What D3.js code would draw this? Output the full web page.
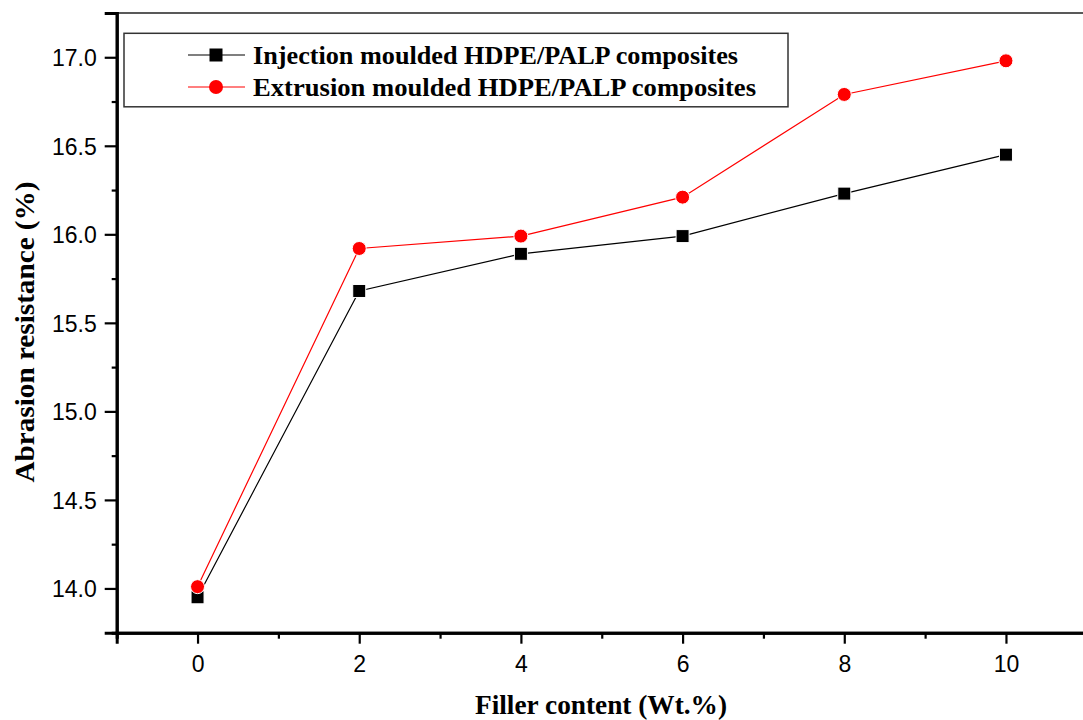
<!DOCTYPE html>
<html><head><meta charset="utf-8">
<script src="https://cdn.jsdelivr.net/npm/d3@7"></script>
<style>html,body{margin:0;padding:0;background:#fff;overflow:hidden}</style>
</head><body>
<svg id="chart" width="1083" height="720"></svg>
<script>
const fillerContent = [0, 2, 4, 6, 8, 10];
const injectionValues = [13.95, 15.68, 15.89, 15.99, 16.23, 16.45];
const extrusionValues = [14.01, 15.92, 15.99, 16.21, 16.79, 16.98];
const seriesNames = ["Injection moulded HDPE/PALP composites", "Extrusion moulded HDPE/PALP composites"];
const xTickLabels = [0, 2, 4, 6, 8, 10];
const yTickLabels = [14.0, 14.5, 15.0, 15.5, 16.0, 16.5, 17.0];
const xTitle = "Filler content (Wt.%)";
const yTitle = "Abrasion resistance (%)";

(function () {
const svg = d3.select("#chart");
const pLeft = 116.7, pRight = 1086.8, pTop = 13, pBottom = 632.7;
const x = d3.scaleLinear().domain([-1, 11]).range([pLeft, pRight]);
const y = d3.scaleLinear().domain([13.75, 17.25]).range([pBottom, pTop]);

// frame (top and right)
svg.append("line").attr("x1", pLeft).attr("x2", pRight).attr("y1", pTop).attr("y2", pTop)
  .attr("stroke", "#222").attr("stroke-width", 1.5);
svg.append("line").attr("x1", pRight).attr("x2", pRight).attr("y1", pTop).attr("y2", pBottom)
  .attr("stroke", "#222").attr("stroke-width", 1.5);

// X axis
const xMajor = d3.axisBottom(x).tickValues(xTickLabels).tickSize(11).tickFormat(d3.format("d"));
const xMinor = d3.axisBottom(x).tickValues([-1, 1, 3, 5, 7, 9, 11]).tickSize(6).tickFormat("");
const gxm = svg.append("g").attr("transform", `translate(0,${pBottom})`).call(xMinor);
const gx = svg.append("g").attr("transform", `translate(0,${pBottom})`).call(xMajor);
[gx, gxm].forEach(g => {
  g.select(".domain").attr("stroke", "#000").attr("stroke-width", 3);
  g.selectAll(".tick line").attr("stroke", "#000").attr("stroke-width", 2.2);
});
gx.selectAll(".tick text").attr("font-family", "Liberation Sans, Arial, sans-serif")
  .attr("font-size", 23).attr("fill", "#000").attr("dy", "0").attr("y", 39);

// Y axis
const yMajor = d3.axisLeft(y).tickValues(yTickLabels).tickSize(12).tickFormat(d3.format(".1f"));
const yMinor = d3.axisLeft(y).tickValues([13.75, 14.25, 14.75, 15.25, 15.75, 16.25, 16.75, 17.25]).tickSize(5).tickFormat("");
const gym = svg.append("g").attr("transform", `translate(${pLeft},0)`).call(yMinor);
const gy = svg.append("g").attr("transform", `translate(${pLeft},0)`).call(yMajor);
[gy, gym].forEach(g => {
  g.select(".domain").attr("stroke", "#000").attr("stroke-width", 3);
  g.selectAll(".tick line").attr("stroke", "#000").attr("stroke-width", 2.2);
});
gy.selectAll(".tick text").attr("font-family", "Liberation Sans, Arial, sans-serif")
  .attr("font-size", 23).attr("fill", "#000").attr("x", -20).attr("dy", "0.36em");

// Titles
svg.append("text").attr("x", 601).attr("y", 714).attr("text-anchor", "middle")
  .attr("font-family", "Liberation Serif, Times New Roman, serif").attr("font-weight", "bold")
  .attr("font-size", 27).attr("textLength", 252).attr("lengthAdjust", "spacingAndGlyphs").text(xTitle);
svg.append("text").attr("transform", "translate(34,332) rotate(-90)").attr("text-anchor", "middle")
  .attr("font-family", "Liberation Serif, Times New Roman, serif").attr("font-weight", "bold")
  .attr("font-size", 28).attr("textLength", 301).attr("lengthAdjust", "spacingAndGlyphs").text(yTitle);

// Series
const inj = fillerContent.map((d, i) => ({x: d, y: injectionValues[i]}));
const ext = fillerContent.map((d, i) => ({x: d, y: extrusionValues[i]}));
const line = d3.line().x(d => x(d.x)).y(d => y(d.y));
svg.append("path").datum(inj).attr("d", line).attr("fill", "none").attr("stroke", "#000").attr("stroke-width", 1.2);
svg.append("path").datum(ext).attr("d", line).attr("fill", "none").attr("stroke", "#ff0000").attr("stroke-width", 1.2);
svg.selectAll(".sq").data(inj).enter().append("rect")
  .attr("x", d => x(d.x) - 6.5).attr("y", d => y(d.y) - 6.5).attr("width", 13).attr("height", 13)
  .attr("fill", "#000").attr("stroke", "#fff").attr("stroke-width", 1);
svg.selectAll(".ci").data(ext).enter().append("circle")
  .attr("cx", d => x(d.x)).attr("cy", d => y(d.y)).attr("r", 7)
  .attr("fill", "#ff0000").attr("stroke", "#fff").attr("stroke-width", 1);

// Legend
const lg = svg.append("g");
lg.append("rect").attr("x", 124).attr("y", 33.3).attr("width", 664).attr("height", 73.5)
  .attr("fill", "#fff").attr("stroke", "#333").attr("stroke-width", 1.5);
const rows = [{name: seriesNames[0], cy: 55, color: "#000", shape: "sq", w: 485},
              {name: seriesNames[1], cy: 87, color: "#ff0000", shape: "ci", w: 503}];
rows.forEach(r => {
  lg.append("line").attr("x1", 188).attr("x2", 245).attr("y1", r.cy).attr("y2", r.cy)
    .attr("stroke", r.color).attr("stroke-width", 1.2);
  if (r.shape === "sq") {
    lg.append("rect").attr("x", 216 - 6.5).attr("y", r.cy - 6.5).attr("width", 13).attr("height", 13).attr("fill", "#000");
  } else {
    lg.append("circle").attr("cx", 216).attr("cy", r.cy).attr("r", 7).attr("fill", "#ff0000");
  }
  lg.append("text").attr("x", 253).attr("y", r.cy + 8.5)
    .attr("font-family", "Liberation Serif, Times New Roman, serif").attr("font-weight", "bold")
    .attr("font-size", 25).attr("textLength", r.w).attr("lengthAdjust", "spacingAndGlyphs").text(r.name);
});
})();
</script>
</body></html>
